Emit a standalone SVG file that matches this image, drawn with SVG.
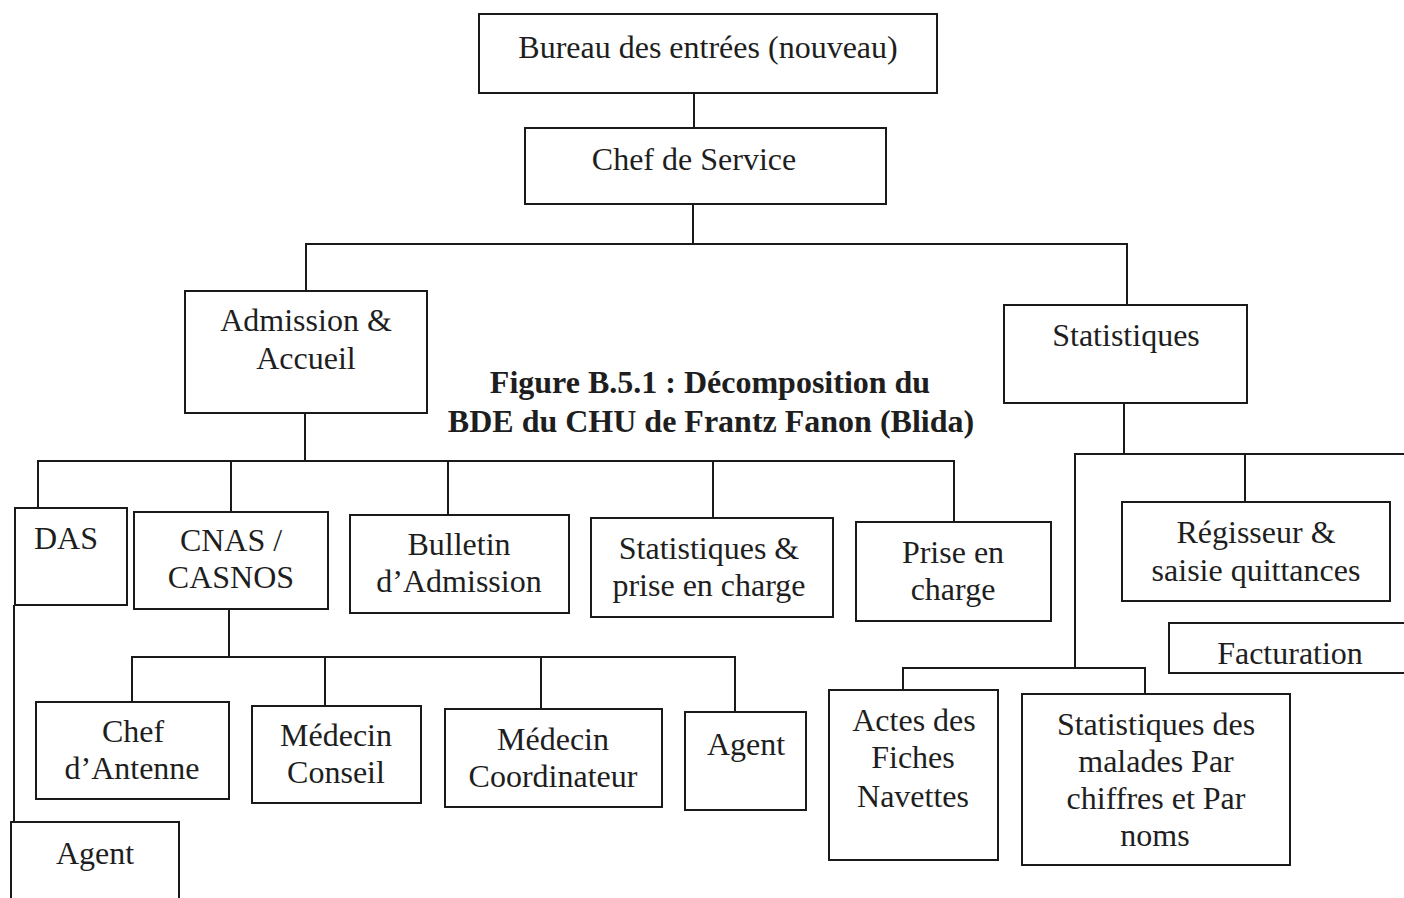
<svg xmlns="http://www.w3.org/2000/svg" width="1404" height="898" viewBox="0 0 1404 898">
  <style>
    .box { fill: #ffffff; stroke: #1a1a1a; stroke-width: 2; }
    .lbl { font-family: "Liberation Serif", "Times New Roman", serif; font-size: 32px; fill: #1e1e1e; text-anchor: middle; }
    .cap { font-family: "Liberation Serif", "Times New Roman", serif; font-size: 32px; font-weight: bold; fill: #1e1e1e; text-anchor: middle; }
    .conn { fill: none; stroke: #1a1a1a; stroke-width: 2; }
  </style>
  <rect width="1404" height="898" fill="#ffffff"/>

  <!-- connectors -->
  <g id="connectors" class="conn">
    <path d="M694 93 V128"/>
    <path d="M693 204 V245"/>
    <path d="M306 291 V244 H1127 V305"/>
    <path d="M305 413 V461"/>
    <path d="M38 508 V461 H954 V524"/>
    <path d="M231 461 V512"/>
    <path d="M448 461 V516"/>
    <path d="M713 461 V520"/>
    <path d="M14 605 V898"/>
    <path d="M229 609 V657"/>
    <path d="M132 703 V657 H735 V713"/>
    <path d="M325 657 V707"/>
    <path d="M541 657 V711"/>
    <path d="M1124 403 V453"/>
    <path d="M1404 454 H1075 V668"/>
    <path d="M1245 453 V502"/>
    <path d="M903 690 V668 H1145 V697"/>
  </g>

  <g id="bureau">
    <rect class="box" x="479" y="14" width="458" height="79"/>
    <text class="lbl" x="708" y="58">Bureau des entrées (nouveau)</text>
  </g>
  <g id="chef-service">
    <rect class="box" x="525" y="128" width="361" height="76"/>
    <text class="lbl" x="694" y="170">Chef de Service</text>
  </g>
  <g id="admission">
    <rect class="box" x="185" y="291" width="242" height="122"/>
    <text class="lbl" x="306" y="331">Admission &amp;</text>
    <text class="lbl" x="306" y="369">Accueil</text>
  </g>
  <g id="statistiques">
    <rect class="box" x="1004" y="305" width="243" height="98"/>
    <text class="lbl" x="1126" y="346">Statistiques</text>
  </g>

  <g id="caption">
    <text class="cap" x="710" y="393">Figure B.5.1 : Décomposition du</text>
    <text class="cap" x="711" y="432">BDE du CHU de Frantz Fanon (Blida)</text>
  </g>

  <g id="das">
    <rect class="box" x="15" y="508" width="112" height="97"/>
    <text class="lbl" x="66" y="549">DAS</text>
  </g>
  <g id="cnas">
    <rect class="box" x="134" y="512" width="194" height="97"/>
    <text class="lbl" x="231" y="551">CNAS /</text>
    <text class="lbl" x="231" y="588">CASNOS</text>
  </g>
  <g id="bulletin">
    <rect class="box" x="350" y="515" width="219" height="98"/>
    <text class="lbl" x="459" y="555">Bulletin</text>
    <text class="lbl" x="459" y="592">d’Admission</text>
  </g>
  <g id="stat-prise">
    <rect class="box" x="591" y="518" width="242" height="99"/>
    <text class="lbl" x="709" y="559">Statistiques &amp;</text>
    <text class="lbl" x="709" y="596">prise en charge</text>
  </g>
  <g id="prise">
    <rect class="box" x="856" y="522" width="195" height="99"/>
    <text class="lbl" x="953" y="563">Prise en</text>
    <text class="lbl" x="953" y="600">charge</text>
  </g>

  <g id="regisseur">
    <rect class="box" x="1122" y="502" width="268" height="99"/>
    <text class="lbl" x="1256" y="543">Régisseur &amp;</text>
    <text class="lbl" x="1256" y="581">saisie quittances</text>
  </g>
  <g id="facturation">
    <rect class="box" x="1169" y="623" width="245" height="50"/>
    <text class="lbl" x="1290" y="664">Facturation</text>
  </g>

  <g id="chef-antenne">
    <rect class="box" x="36" y="702" width="193" height="97"/>
    <text class="lbl" x="133" y="742">Chef</text>
    <text class="lbl" x="132" y="779">d’Antenne</text>
  </g>
  <g id="medecin-conseil">
    <rect class="box" x="252" y="706" width="169" height="97"/>
    <text class="lbl" x="336" y="746">Médecin</text>
    <text class="lbl" x="336" y="783">Conseil</text>
  </g>
  <g id="medecin-coordinateur">
    <rect class="box" x="445" y="709" width="217" height="98"/>
    <text class="lbl" x="553" y="750">Médecin</text>
    <text class="lbl" x="553" y="787">Coordinateur</text>
  </g>
  <g id="agent-cnas">
    <rect class="box" x="685" y="712" width="121" height="98"/>
    <text class="lbl" x="746" y="755">Agent</text>
  </g>

  <g id="actes">
    <rect class="box" x="829" y="690" width="169" height="170"/>
    <text class="lbl" x="914" y="731">Actes des</text>
    <text class="lbl" x="913" y="768">Fiches</text>
    <text class="lbl" x="913" y="807">Navettes</text>
  </g>
  <g id="stat-malades">
    <rect class="box" x="1022" y="694" width="268" height="171"/>
    <text class="lbl" x="1156" y="735">Statistiques des</text>
    <text class="lbl" x="1156" y="772">malades Par</text>
    <text class="lbl" x="1156" y="809">chiffres et Par</text>
    <text class="lbl" x="1155" y="846">noms</text>
  </g>

  <g id="agent-das">
    <rect class="box" x="11" y="822" width="168" height="90"/>
    <text class="lbl" x="95" y="864">Agent</text>
  </g>
</svg>
